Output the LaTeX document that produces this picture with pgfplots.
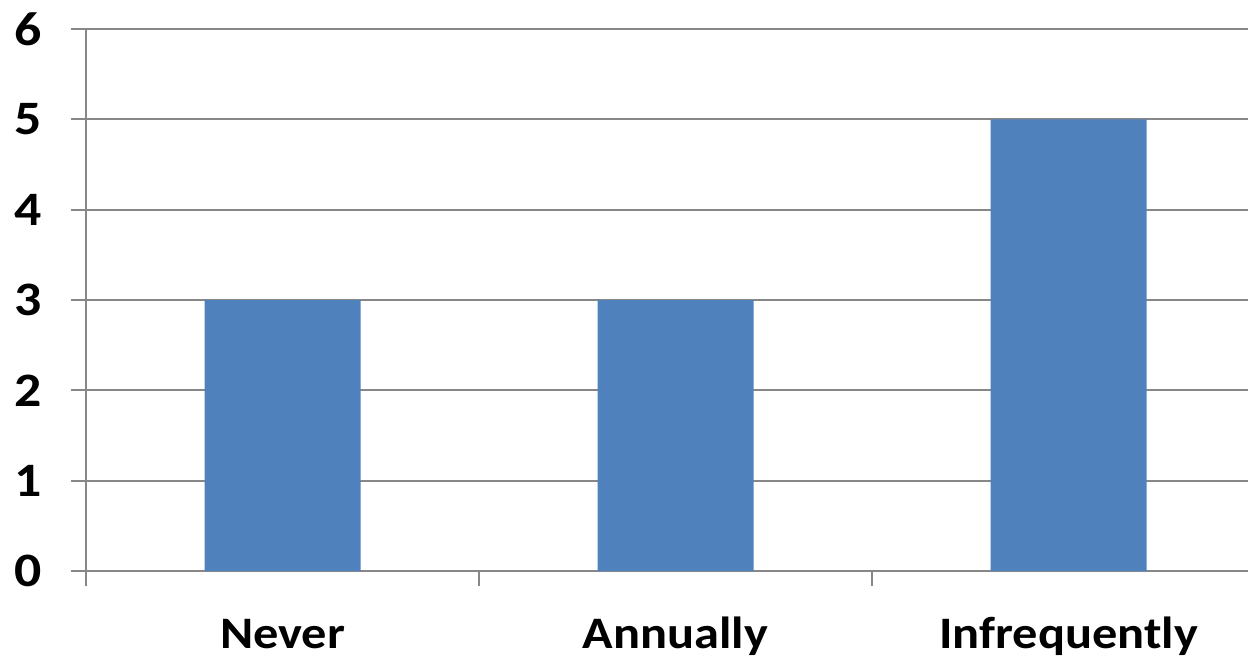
\documentclass[border=0pt]{standalone}
\usepackage{pgfplots}
\pgfplotsset{compat=1.18}
\usepackage{fontspec}
\setmainfont{Carlito}[FakeStretch=1.12]
\definecolor{barblue}{HTML}{4F81BD}
\definecolor{gridgray}{HTML}{878787}
\begin{document}
\begin{tikzpicture}
\begin{axis}[
  at={(43pt,44pt)}, anchor=south west,
  scale only axis, width=589.5pt, height=271pt,
  xmin=-0.5, xmax=2.5, ymin=0, ymax=6,
  xtick={0,1,2}, xticklabels={Never,Annually,Infrequently},
  minor xtick={-0.5,0.5,1.5,2.5},
  ytick={0,1,2,3,4,5,6},
  xtick pos=bottom, ytick pos=left,
  ymajorgrids,
  major grid style={gridgray, line width=1pt},
  axis line style={gridgray, line width=1pt},
  tick align=outside,
  major tick length=7.5pt, minor tick length=7.5pt,
  major x tick style={draw=none},
  minor x tick style={gridgray, line width=1pt},
  major y tick style={gridgray, line width=1pt},
  ticklabel style={text=black},
  /pgf/number format/assume math mode=true,
  xticklabel style={font=\fontsize{22.5}{24}\selectfont\bfseries, anchor=base, yshift=-31pt},
  yticklabel style={font=\fontsize{24}{26}\selectfont\bfseries, anchor=east, xshift=-11pt},
]
\addplot[ybar, fill=barblue, draw=none, bar width=78pt] coordinates {(0,3) (1,3) (2,5)};
\end{axis}
\pgfresetboundingbox
\useasboundingbox (0,0) rectangle (624pt,329.5pt);
\end{tikzpicture}
\end{document}
